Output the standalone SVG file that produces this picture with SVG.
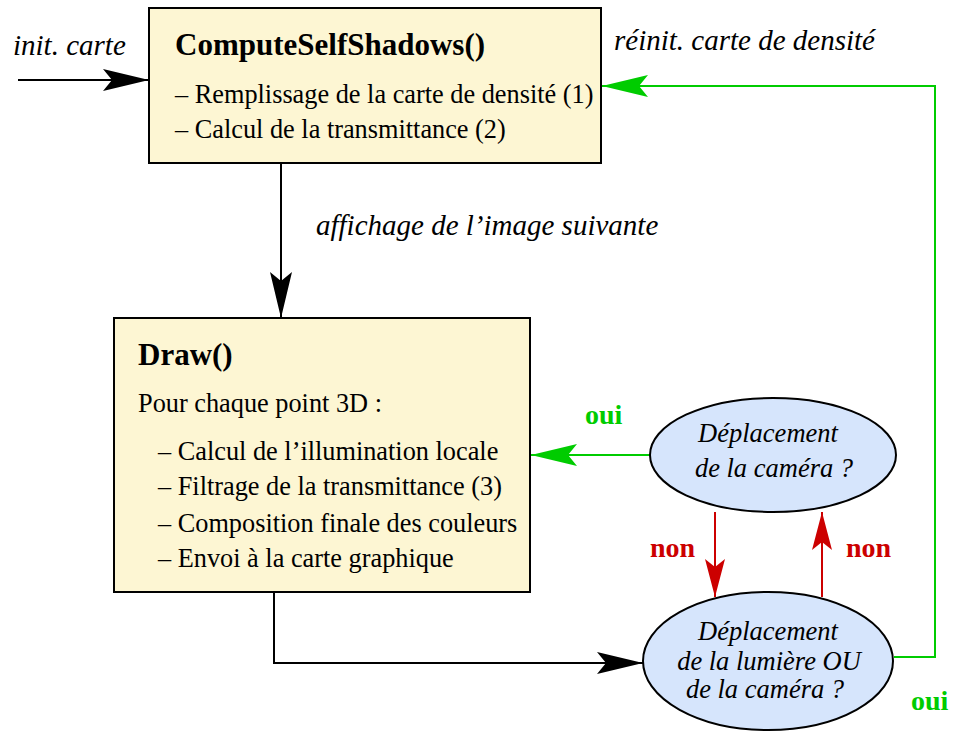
<svg xmlns="http://www.w3.org/2000/svg" width="953" height="731" viewBox="0 0 953 731">
<style>
.box{fill:#fdf6d3;stroke:#000;stroke-width:2}
.ell{fill:#d6e5fc;stroke:#000;stroke-width:2}
text{font-family:'Liberation Serif','Times New Roman','DejaVu Serif',serif;font-size:26.3px;fill:#000}
.b{font-weight:bold;font-size:31px}
.i{font-style:italic;font-size:29px}
.e{font-style:italic;font-size:26.5px}
.g{fill:#00cc00;font-weight:bold;font-size:28px}
.r{fill:#cc0000;font-weight:bold;font-size:28px}
.ln{fill:none;stroke-width:2}
</style>
<defs>
<marker id="ak" markerUnits="userSpaceOnUse" viewBox="-50 -15 55 30" markerWidth="55" markerHeight="30" refX="0" refY="0" orient="auto" overflow="visible"><path d="M0,0 L-46,-11 L-37,0 L-46,11 Z" fill="#000"/></marker>
<marker id="ag" markerUnits="userSpaceOnUse" viewBox="-50 -15 55 30" markerWidth="55" markerHeight="30" refX="0" refY="0" orient="auto" overflow="visible"><path d="M0,0 L-46,-11 L-37,0 L-46,11 Z" fill="#00cc00"/></marker>
<marker id="ar" markerUnits="userSpaceOnUse" viewBox="-50 -15 55 30" markerWidth="55" markerHeight="30" refX="0" refY="0" orient="auto" overflow="visible"><path d="M0,0 L-38,-10 L-30,0 L-38,10 Z" fill="#cc0000"/></marker>
</defs>
<g id="connectors">
<path class="ln" stroke="#000" d="M18,80 H149" marker-end="url(#ak)"/>
<path class="ln" stroke="#000" d="M281,163 V318" marker-end="url(#ak)"/>
<path class="ln" stroke="#000" d="M274,592 V663 H643" marker-end="url(#ak)"/>
<path class="ln" stroke="#00cc00" d="M650,455 H531" marker-end="url(#ag)"/>
<path class="ln" stroke="#00cc00" d="M894,657 H935 V86 H602" marker-end="url(#ag)"/>
<path class="ln" stroke="#cc0000" d="M715,512 V597" marker-end="url(#ar)"/>
<path class="ln" stroke="#cc0000" d="M822,597 V512" marker-end="url(#ar)"/>
</g>
<g id="labels">
<text class="i" x="13" y="55">init. carte</text>
<text class="i" x="316" y="235">affichage de l’image suivante</text>
<text class="i" x="614" y="50">réinit. carte de densité</text>
<text class="g" x="585" y="424">oui</text>
<text class="g" x="911" y="710">oui</text>
<text class="r" x="650" y="557">non</text>
<text class="r" x="846" y="557">non</text>
</g>
<g id="computeSelfShadows">
<rect class="box" x="149" y="8" width="452" height="155"/>
<text class="b" x="175" y="55">ComputeSelfShadows()</text>
<text x="175" y="103">– Remplissage de la carte de densité (1)</text>
<text x="175" y="138">– Calcul de la transmittance (2)</text>
</g>
<g id="draw">
<rect class="box" x="114" y="318" width="416" height="274"/>
<text class="b" x="138" y="365">Draw()</text>
<text x="138" y="412">Pour chaque point 3D :</text>
<text x="158" y="460">– Calcul de l’illumination locale</text>
<text x="158" y="495">– Filtrage de la transmittance (3)</text>
<text x="158" y="532">– Composition finale des couleurs</text>
<text x="158" y="567">– Envoi à la carte graphique</text>
</g>
<g id="cameraMove">
<ellipse class="ell" cx="773" cy="455" rx="123" ry="57"/>
<text class="e" x="768" y="442" text-anchor="middle">Déplacement</text>
<text class="e" x="774" y="477" text-anchor="middle">de la caméra ?</text>
</g>
<g id="lightOrCameraMove">
<ellipse class="ell" cx="768" cy="661" rx="125" ry="69"/>
<text class="e" x="768" y="640" text-anchor="middle">Déplacement</text>
<text class="e" x="769" y="670" text-anchor="middle">de la lumière OU</text>
<text class="e" x="765" y="698" text-anchor="middle">de la caméra ?</text>
</g>
</svg>
